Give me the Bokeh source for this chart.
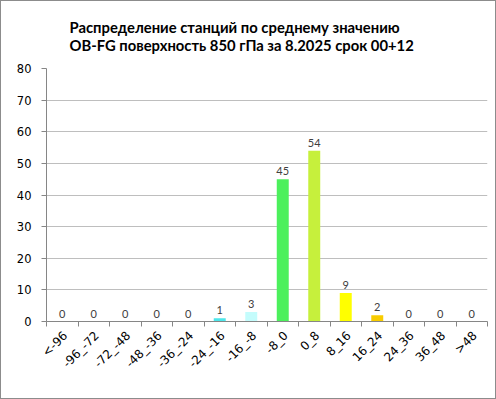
import math
from bokeh.plotting import figure
from bokeh.models import (Range1d, FixedTicker, ColumnDataSource)
from bokeh.core.properties import value
from bokeh.embed import file_html
from bokeh.resources import INLINE

categories = ["<-96", "-96_-72", "-72_-48", "-48_-36", "-36_-24", "-24_-16", "-16_-8",
              "-8_0", "0_8", "8_16", "16_24", "24_36", "36_48", ">48"]
counts = [0, 0, 0, 0, 0, 1, 3, 45, 54, 9, 2, 0, 0, 0]
bar_colors = ["#1f3fbf", "#2f5fdf", "#3f7fff", "#3fa0ff", "#3fc8ff", "#4de6ea", "#c4fcfc",
              "#4cf05c", "#c6f03c", "#ffff00", "#f8cc00", "#ff9900", "#ff6600", "#ff0000"]
title_lines = ["Распределение станций по среднему значению",
               "OB-FG поверхность  850 гПа за 8.2025 срок 00+12"]
y_ticks = [0, 10, 20, 30, 40, 50, 60, 70, 80]

n = len(categories)
centers = [i + 0.5 for i in range(n)]
bounds = [float(i) for i in range(n + 1)]
label_pos = [c + 0.1 for c in centers]  # nudge rotated labels to match the reference

W, H = 496, 399
p = figure(width=W, height=H, output_backend="svg", toolbar_location=None,
           x_range=Range1d(0, n), y_range=Range1d(0, 80),
           title="\n".join(title_lines),
           min_border_left=45, min_border_right=10, min_border_top=66, min_border_bottom=79)
p.outline_line_color = None
p.background_fill_color = "white"
p.border_fill_color = "white"
p.styles = {"border": "1px solid #8c8c8c", "box-sizing": "border-box"}

p.title.align = "left"
p.title.offset = 23
p.title.text_font = "Lato"
p.title.text_font_style = "bold"
p.title.text_font_size = "14.8px"
p.title.text_color = "#000000"
p.title.standoff = 29

src = ColumnDataSource(dict(x=centers, top=counts, color=bar_colors,
                            lbl=[str(c) for c in counts]))
p.vbar(x="x", top="top", width=0.38, bottom=0, color="color", line_color=None, source=src)
p.text(x="x", y="top", text="lbl", source=src, text_align="center",
       text_baseline="alphabetic", y_offset=-8, text_font=value("Lato"),
       text_font_size="11px", text_color="#404040")

# x axis
xa = p.xaxis[0]
xa.ticker = FixedTicker(ticks=label_pos, minor_ticks=bounds)
xa.major_label_overrides = {c: lab for c, lab in zip(label_pos, categories)}
xa.major_tick_line_color = None
xa.minor_tick_out = 5
xa.minor_tick_in = 0
xa.minor_tick_line_color = "#868686"
xa.axis_line_color = "#868686"
xa.major_label_orientation = math.pi / 4
xa.major_label_text_font = "DejaVu Sans"
xa.major_label_text_font_size = "12px"
xa.major_label_text_color = "#000000"
xa.major_label_standoff = 6

# y axis
ya = p.yaxis[0]
ya.ticker = FixedTicker(ticks=y_ticks)
ya.axis_line_color = "#868686"
ya.major_tick_out = 5
ya.major_tick_in = 0
ya.major_tick_line_color = "#868686"
ya.minor_tick_line_color = None
ya.major_label_text_font = "DejaVu Sans"
ya.major_label_text_font_size = "11.5px"
ya.major_label_text_color = "#000000"
ya.major_label_standoff = 10

p.xgrid.grid_line_color = None
p.ygrid.grid_line_color = "#bebebe"
p.ygrid.ticker = FixedTicker(ticks=y_ticks)

open("out.html", "w").write(file_html(p, INLINE))
